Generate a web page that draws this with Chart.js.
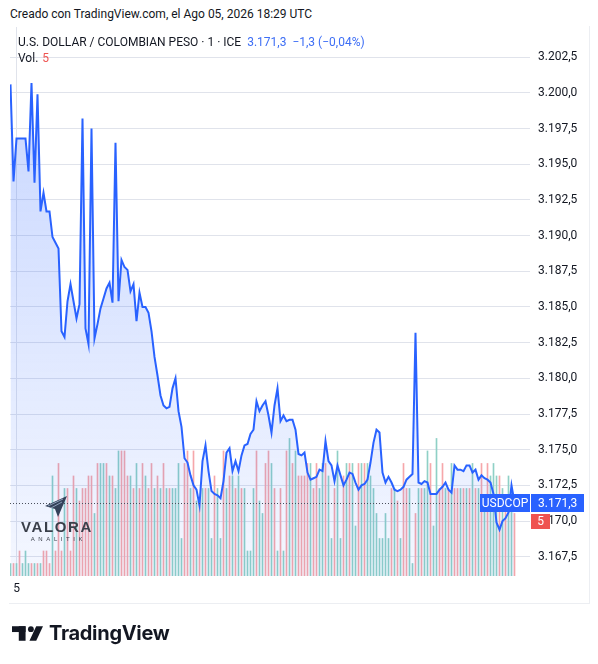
<!DOCTYPE html>
<html>
<head>
<meta charset="utf-8">
<script src="https://cdn.jsdelivr.net/npm/chart.js@4.4.1/dist/chart.umd.min.js"></script>
<style>
    body { margin: 0; background: #fff; width: 598px; height: 664px; position: relative; overflow: hidden;
           font-family: Roboto, "Liberation Sans", sans-serif; color: #131722; }
    #created { position: absolute; left: 10px; top: 7px; font-size: 12px; line-height: 14px; white-space: nowrap; }
    #frame { position: absolute; left: 9px; top: 26px; width: 580px; height: 577px;
             border-right: 1px solid #eceef2; border-bottom: 1px solid #eceef2; }
    #wrap { position: absolute; left: 10px; top: 27px; width: 580px; height: 578px; }
    #legend { position: absolute; left: 18px; top: 34px; font-size: 12px; line-height: 16px; white-space: nowrap; }
    #legend .px { color: #3d6ef5; margin-left: 6px; }
    #legend .vol { color: #ef5350; margin-left: 4px; }
    #valora { position: absolute; left: 20px; top: 496px; width: 74px; text-align: center; color: #3a3f4a; }
    #valora .name { font: 700 15px "Liberation Sans", sans-serif; letter-spacing: 1.6px; line-height: 16px; margin-top: 1px; }
    #valora .sub { font: 400 6px "Liberation Sans", sans-serif; letter-spacing: 3.6px; line-height: 8px; margin-left: 3px; }
    #tvlogo { position: absolute; left: 12px; top: 621px; display: flex; align-items: center; }
    #tvlogo span { font: 700 20px Inter, "Liberation Sans", sans-serif; color: #131722; margin-left: 6px; letter-spacing: -0.3px; }
</style>
</head>
<body>
<div id="created">Creado con TradingView.com, el Ago 05, 2026 18:29 UTC</div>
<div id="frame"></div>
<div id="wrap"><canvas id="usdcopChart" width="580" height="578"></canvas></div>
<div id="legend">
    <div>U.S. DOLLAR / COLOMBIAN PESO · 1 · ICE<span class="px">3.171,3&nbsp; −1,3 (−0,04%)</span></div>
    <div>Vol.<span class="vol">5</span></div>
</div>
<div id="valora">
    <svg width="22" height="22" viewBox="0 0 22 22" style="display:block;margin:0 auto 0 25px">
        <polygon points="0,10 22,0 13,21 10,13" fill="#34425a"/>
        <polyline points="3,10 18,3" stroke="#8da0bb" stroke-width="1"/>
        <polyline points="6,12 17,6" stroke="#8da0bb" stroke-width="1"/>
    </svg>
    <div class="name">VALORA</div>
    <div class="sub">ANALITIK</div>
</div>
<div id="tvlogo">
    <svg width="31" height="15" viewBox="0 0 32 15">
        <rect x="0" y="0" width="14" height="6" fill="#131722"/>
        <rect x="7" y="0" width="7" height="15" fill="#131722"/>
        <circle cx="19.5" cy="3" r="3" fill="#131722"/>
        <polygon points="25,0 32,0 25,15 18,15" fill="#131722"/>
    </svg>
    <span>TradingView</span>
</div>
<script>
// USD/COP 1-minute, ICE - price (close) per bar
const prices = [
    3200.6, 3193.8, 3196.8, 3196.8, 3196.8, 3196.8, 3194.5, 3200.7, 3193.7, 3199.9,
    3191.7, 3193.0, 3191.7, 3191.7, 3189.9, 3189.5, 3189.1, 3183.3, 3182.9, 3185.4,
    3186.6, 3185.4, 3184.2, 3185.2, 3198.2, 3183.5, 3182.4, 3197.5, 3182.8, 3183.8,
    3184.9, 3185.6, 3186.3, 3186.7, 3185.3, 3196.5, 3185.4, 3188.3, 3187.8, 3187.6,
    3186.1, 3186.6, 3184.0, 3186.0, 3185.0, 3185.0, 3184.6, 3183.3, 3181.5, 3180.2,
    3178.8, 3178.1, 3177.9, 3178.0, 3179.3, 3180.0, 3177.7, 3176.6, 3174.4, 3174.1,
    3173.2, 3172.5, 3172.2, 3171.1, 3174.2, 3175.3, 3173.5, 3172.1, 3171.9, 3171.8,
    3171.6, 3172.8, 3174.8, 3175.1, 3173.5, 3174.2, 3173.5, 3174.6, 3175.3, 3175.4,
    3176.1, 3176.4, 3178.4, 3177.7, 3178.1, 3178.4, 3177.4, 3176.2, 3178.1, 3179.3,
    3177.0, 3177.4, 3177.0, 3177.1, 3177.1, 3176.4, 3174.7, 3174.6, 3174.8, 3173.4,
    3172.9, 3173.0, 3173.1, 3173.6, 3173.5, 3175.6, 3174.2, 3173.9, 3172.8, 3173.9,
    3173.2, 3172.5, 3172.9, 3173.4, 3173.3, 3172.7, 3172.2, 3172.5, 3172.6, 3172.9,
    3174.1, 3175.5, 3176.4, 3176.2, 3173.4, 3172.7, 3173.1, 3172.7, 3172.2, 3172.1,
    3172.2, 3172.4, 3172.9, 3173.1, 3173.3, 3183.2, 3172.7, 3172.6, 3172.8, 3172.7,
    3171.9, 3171.9, 3171.9, 3172.2, 3172.4, 3172.7, 3172.2, 3172.0, 3173.9, 3173.6,
    3173.6, 3173.5, 3173.9, 3173.9, 3173.4, 3173.6, 3172.9, 3173.2, 3173.0, 3172.9,
    3172.7, 3171.9, 3169.9, 3169.4, 3170.0, 3170.2, 3170.6, 3172.5, 3171.3
];

const volumes = [
    1, 1, 1, 2, 1, 2, 1, 1, 1, 1,  1, 2, 2, 1, 8, 2, 9, 2, 7, 7,
    2, 8, 7, 6, 7, 7, 8, 8, 5, 9,  9, 9, 9, 8, 8, 7, 10, 10, 10, 8,
    8, 7, 9, 7, 9, 8, 7, 9, 7, 8,  7, 9, 7, 7, 7, 7, 9, 3, 9, 10,
    7, 10, 6, 6, 7, 7, 7, 3, 8, 7,  3, 10, 7, 8, 8, 7, 8, 7, 7, 2,
    2, 7, 10, 6, 5, 9, 10, 9, 7, 2,  7, 2, 10, 11, 9, 10, 8, 8, 8, 9,
    9, 7, 9, 7, 9, 9, 8, 3, 7, 10,  3, 8, 9, 9, 9, 4, 9, 9, 9, 9,
    8, 7, 5, 3, 3, 5, 3, 7, 7, 6,  3, 9, 7, 7, 1, 5, 7, 7, 7, 10,
    9, 4, 11, 7, 9, 7, 7, 9, 7, 7,  7, 7, 7, 7, 9, 7, 7, 9, 6, 9,
    8, 9, 8, 8, 7, 6, 8, 7, 5
];

// 'u' = up bar, 'd' = down bar
const volDirs = [
    'u','d','u','d','u','u','u','d','u','d',  'u','d','d','d','u','d','d','d','u','d',
    'd','d','u','d','d','d','d','d','u','d',  'u','u','d','u','d','u','u','d','d','d',
    'u','d','u','d','d','u','d','d','u','d',  'u','d','u','d','u','u','u','u','d','d',
    'u','d','u','d','u','d','u','u','d','u',  'u','d','u','d','u','d','u','d','u','u',
    'u','u','d','u','u','d','d','u','d','u',  'd','u','d','u','d','u','d','d','d','d',
    'u','d','d','u','u','d','u','u','d','u',  'u','d','u','d','u','u','d','u','d','u',
    'u','u','u','u','u','u','u','d','u','d',  'u','d','d','u','u','d','u','d','u','u',
    'd','u','u','d','d','u','d','u','d','d',  'u','d','u','d','u','d','u','d','u','d',
    'u','u','u','d','u','d','u','u','d'
];

const priceTicks = [3167.5, 3170, 3172.5, 3175, 3177.5, 3180, 3182.5, 3185, 3187.5,
                    3190, 3192.5, 3195, 3197.5, 3200, 3202.5];
const timeTicks = [{ index: 2, label: '5' }];

const symbolName = 'USDCOP';
const lastPrice = prices[prices.length - 1];
const lastVolume = volumes[volumes.length - 1];

const PRICE_MIN = 3166.15;
const PRICE_MAX = 3204.62;
const VOL_MAX = 43.9;
const X_MIN = -1 / 6;
const X_MAX = 520 / 3 - 1 / 6;

const UP_COLOR = '#8fd0c6';
const DOWN_COLOR = '#f6a7aa';
const LINE_COLOR = '#2962ff';
const GRID_COLOR = '#e0e3eb';
const TEXT_COLOR = '#131722';

function fmtPrice(v) {
    const parts = v.toFixed(1).split('.');
    return parts[0].replace(/\B(?=(\d{3})+(?!\d))/g, '.') + ',' + parts[1];
}

function noPadding(scale) {
    scale.paddingTop = 0;
    scale.paddingBottom = 0;
    scale.paddingLeft = 0;
    scale.paddingRight = 0;
}

const lastPricePlugin = {
    id: 'lastPrice',
    afterDraw(chart) {
        const { ctx, chartArea, scales } = chart;
        const y = Math.round(scales.y.getPixelForValue(lastPrice));
        const boxH = 18;
        const nameW = 50;

        ctx.save();
        // dotted price line
        ctx.strokeStyle = '#4a4f5c';
        ctx.lineWidth = 1;
        ctx.setLineDash([1, 2]);
        ctx.beginPath();
        ctx.moveTo(chartArea.left, y + 0.5);
        ctx.lineTo(chartArea.right - nameW, y + 0.5);
        ctx.stroke();
        ctx.setLineDash([]);

        // symbol + price boxes
        ctx.fillStyle = LINE_COLOR;
        ctx.fillRect(chartArea.right - nameW, y - boxH / 2, nameW, boxH);
        ctx.fillRect(chartArea.right + 1, y - boxH / 2, 53, boxH);

        ctx.fillStyle = '#fff';
        ctx.font = '12px Roboto, "Liberation Sans", sans-serif';
        ctx.textBaseline = 'middle';
        ctx.textAlign = 'center';
        ctx.fillText(symbolName, chartArea.right - nameW / 2, y + 1);
        ctx.textAlign = 'left';
        ctx.fillText(fmtPrice(lastPrice), chartArea.right + 8, y + 1);

        // volume label, pushed below the price label
        const vTop = y + boxH / 2 + 2;
        ctx.fillStyle = '#ef5350';
        ctx.fillRect(chartArea.right + 1, vTop, 19, 15);
        ctx.fillStyle = '#fff';
        ctx.textAlign = 'center';
        ctx.fillText(String(lastVolume), chartArea.right + 10.5, vTop + 8);
        ctx.restore();
    }
};

const areaFill = (context) => {
    const area = context.chart.chartArea;
    if (!area) return 'rgba(41,98,255,0.12)';
    const g = context.chart.ctx.createLinearGradient(0, area.top, 0, area.bottom);
    g.addColorStop(0, 'rgba(41,98,255,0.28)');
    g.addColorStop(1, 'rgba(41,98,255,0.05)');
    return g;
};

const chart = new Chart(document.getElementById('usdcopChart'), {
    data: {
        datasets: [
            {
                type: 'line',
                data: prices.map((p, i) => ({ x: i, y: p })),
                yAxisID: 'y',
                borderColor: LINE_COLOR,
                borderWidth: 2,
                backgroundColor: areaFill,
                fill: 'start',
                pointRadius: 0,
                tension: 0,
                order: 1
            },
            {
                type: 'bar',
                data: volumes.map((v, i) => ({ x: i, y: v })),
                yAxisID: 'yVol',
                backgroundColor: volDirs.map(d => d === 'u' ? UP_COLOR : DOWN_COLOR),
                barThickness: 1,
                borderWidth: 0,
                order: 2
            }
        ]
    },
    plugins: [lastPricePlugin],
    options: {
        responsive: false,
        devicePixelRatio: 1,
        animation: false,
        events: [],
        layout: { padding: 0 },
        plugins: { legend: { display: false }, tooltip: { enabled: false } },
        scales: {
            x: {
                type: 'linear',
                min: X_MIN,
                max: X_MAX,
                offset: false,
                grid: { color: GRID_COLOR, drawTicks: false, offset: false },
                border: { display: false },
                ticks: {
                    padding: 6,
                    color: TEXT_COLOR,
                    maxRotation: 0,
                    font: { family: 'Roboto, "Liberation Sans", sans-serif', size: 12 },
                    callback: (value) => {
                        const t = timeTicks.find(tt => tt.index === value);
                        return t ? t.label : '';
                    }
                },
                afterBuildTicks: (scale) => { scale.ticks = timeTicks.map(t => ({ value: t.index })); },
                afterFit: (scale) => { scale.height = 29; noPadding(scale); }
            },
            y: {
                position: 'right',
                min: PRICE_MIN,
                max: PRICE_MAX,
                grid: { color: GRID_COLOR, drawTicks: false },
                border: { display: false },
                ticks: {
                    padding: 8,
                    color: TEXT_COLOR,
                    font: { family: 'Roboto, "Liberation Sans", sans-serif', size: 12 },
                    callback: (value) => fmtPrice(value)
                },
                afterBuildTicks: (scale) => { scale.ticks = priceTicks.map(v => ({ value: v })); },
                afterFit: (scale) => { scale.width = 60; noPadding(scale); }
            },
            yVol: {
                display: false,
                min: 0,
                max: VOL_MAX
            }
        }
    }
});
</script>
</body>
</html>
